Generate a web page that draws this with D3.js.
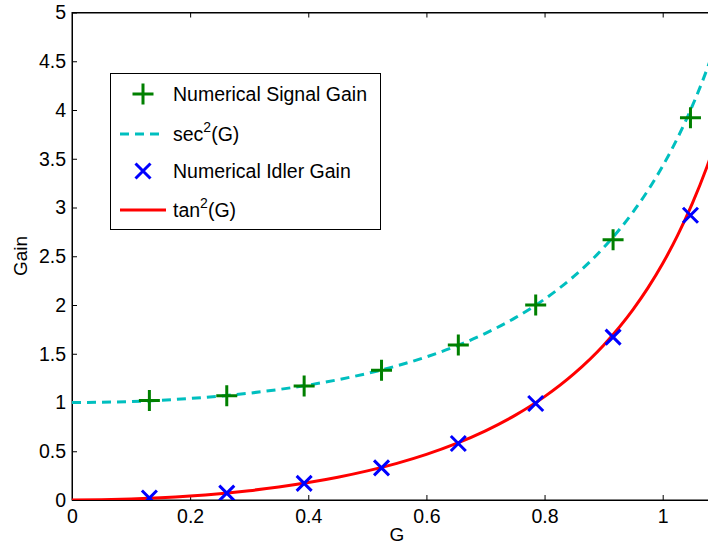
<!DOCTYPE html>
<html>
<head>
<meta charset="utf-8">
<script src="https://cdn.jsdelivr.net/npm/d3@7"></script>
<style>
  body { margin: 0; background: #fff; }
  text { font-family: "Liberation Sans", Arial, sans-serif; }
</style>
</head>
<body>
<div id="graph"></div>
<script>
// numerical points
const gPoints = [0.131, 0.262, 0.393, 0.524, 0.654, 0.785, 0.916, 1.047];
const signalGain = [1.02, 1.07, 1.17, 1.33, 1.59, 2.00, 2.67, 3.92];
const idlerGain = [0.02, 0.07, 0.17, 0.33, 0.58, 0.99, 1.67, 2.92];

// analytic curves, sampled
const gCurve = [0, 0.05, 0.1, 0.15, 0.2, 0.25, 0.3, 0.35, 0.4, 0.45, 0.5, 0.55, 0.6, 0.65, 0.7, 0.75, 0.8, 0.85, 0.9, 0.95, 0.975, 1.0, 1.025, 1.05, 1.075, 1.1];
const sec2Curve = [1, 1.0025, 1.0101, 1.0228, 1.0411, 1.0652, 1.0957, 1.1333, 1.1788, 1.2334, 1.2985, 1.3759, 1.4680, 1.5779, 1.7095, 1.8679, 2.0602, 2.2958, 2.5880, 2.9555, 3.1755, 3.4255, 3.7111, 4.0391, 4.4185, 4.8603];
const tan2Curve = [0, 0.0025, 0.0101, 0.0228, 0.0411, 0.0652, 0.0957, 0.1333, 0.1788, 0.2334, 0.2985, 0.3759, 0.4680, 0.5779, 0.7095, 0.8679, 1.0602, 1.2958, 1.5880, 1.9555, 2.1755, 2.4255, 2.7111, 3.0391, 3.4185, 3.8603];

const xTicks = [0, 0.2, 0.4, 0.6, 0.8, 1];
const yTicks = [0, 0.5, 1, 1.5, 2, 2.5, 3, 3.5, 4, 4.5, 5];

const width = 708;
const height = 546;
const plotLeft = 72, plotTop = 12.5, plotBottom = 500;

const xScale = d3.scaleLinear().domain([0, 1.1]).range([plotLeft, plotLeft + 590.7 * 1.1]);
const yScale = d3.scaleLinear().domain([0, 5]).range([plotBottom, plotTop]);

const svg = d3.select("#graph")
    .append("svg")
    .attr("width", width)
    .attr("height", height);

svg.append("defs").append("clipPath")
    .attr("id", "plotClip")
    .append("rect")
    .attr("x", plotLeft).attr("y", plotTop)
    .attr("width", xScale(1.1) - plotLeft)
    .attr("height", plotBottom - plotTop);

// frame
svg.append("rect")
    .attr("x", plotLeft).attr("y", plotTop)
    .attr("width", xScale(1.1) - plotLeft)
    .attr("height", plotBottom - plotTop)
    .attr("fill", "none")
    .attr("stroke", "#000")
    .attr("stroke-width", 1);

const tickFmt = d3.format("");

const xAxis = d3.axisBottom(xScale).tickValues(xTicks).tickFormat(tickFmt)
    .tickSizeInner(-5).tickSizeOuter(0).tickPadding(9);
const yAxis = d3.axisLeft(yScale).tickValues(yTicks).tickFormat(tickFmt)
    .tickSizeInner(-5).tickSizeOuter(0).tickPadding(6);

const gx = svg.append("g").attr("transform", "translate(0," + plotBottom + ")").call(xAxis);
const gy = svg.append("g").attr("transform", "translate(" + plotLeft + ",0)").call(yAxis);
// mirrored ticks on top
svg.append("g").attr("transform", "translate(0," + plotTop + ")")
    .call(d3.axisTop(xScale).tickValues(xTicks).tickFormat("").tickSizeInner(-5).tickSizeOuter(0));

[gx, gy].forEach(g => {
    g.selectAll("text").attr("font-size", "19.5px").attr("fill", "#000")
        .attr("font-family", "Liberation Sans, Arial, sans-serif");
});
svg.selectAll(".domain").attr("stroke", "#000");
svg.selectAll(".tick line").attr("stroke", "#000");

// axis titles
svg.append("text")
    .attr("x", 397).attr("y", 541)
    .attr("text-anchor", "middle")
    .attr("font-size", "19px")
    .text("G");

svg.append("text")
    .attr("transform", "translate(27,256) rotate(-90)")
    .attr("text-anchor", "middle")
    .attr("font-size", "19px")
    .text("Gain");

const plot = svg.append("g").attr("clip-path", "url(#plotClip)");

const line = d3.line()
    .x((d, i) => xScale(gCurve[i]))
    .y(d => yScale(d))
    .curve(d3.curveMonotoneX);

plot.append("path")
    .datum(sec2Curve)
    .attr("d", line)
    .attr("fill", "none")
    .attr("stroke", "#00bfbf")
    .attr("stroke-width", 3)
    .attr("stroke-dasharray", "9,6");

plot.append("path")
    .datum(tan2Curve)
    .attr("d", line)
    .attr("fill", "none")
    .attr("stroke", "#ff0000")
    .attr("stroke-width", 3);

const plusPath = (cx, cy, r) => "M" + (cx - r) + "," + cy + "H" + (cx + r) + "M" + cx + "," + (cy - r) + "V" + (cy + r);
const crossPath = (cx, cy, r) => "M" + (cx - r) + "," + (cy - r) + "L" + (cx + r) + "," + (cy + r) +
    "M" + (cx - r) + "," + (cy + r) + "L" + (cx + r) + "," + (cy - r);

plot.selectAll(".sig")
    .data(signalGain)
    .enter()
    .append("path")
    .attr("class", "sig")
    .attr("d", (d, i) => plusPath(xScale(gPoints[i]), yScale(d), 10.5))
    .attr("stroke", "#008000")
    .attr("stroke-width", 3)
    .attr("fill", "none");

plot.selectAll(".idl")
    .data(idlerGain)
    .enter()
    .append("path")
    .attr("class", "idl")
    .attr("d", (d, i) => crossPath(xScale(gPoints[i]), yScale(d), 7.5))
    .attr("stroke", "#0000ff")
    .attr("stroke-width", 3)
    .attr("fill", "none");

// legend
const legend = svg.append("g");
legend.append("rect")
    .attr("x", 110.5).attr("y", 73.5)
    .attr("width", 270).attr("height", 156)
    .attr("fill", "#fff")
    .attr("stroke", "#000")
    .attr("stroke-width", 1);

const rows = [94, 134, 171, 210];
const symX = 143, textX = 173;

legend.append("path").attr("d", plusPath(symX, rows[0], 10.5))
    .attr("stroke", "#008000").attr("stroke-width", 3).attr("fill", "none");
legend.append("line").attr("x1", 120).attr("x2", 164).attr("y1", rows[1]).attr("y2", rows[1])
    .attr("stroke", "#00bfbf").attr("stroke-width", 3).attr("stroke-dasharray", "9,6");
legend.append("path").attr("d", crossPath(symX, rows[2], 7.5))
    .attr("stroke", "#0000ff").attr("stroke-width", 3).attr("fill", "none");
legend.append("line").attr("x1", 120).attr("x2", 166).attr("y1", rows[3]).attr("y2", rows[3])
    .attr("stroke", "#ff0000").attr("stroke-width", 3);

const addLabel = (y, base, sup, rest) => {
    const t = legend.append("text").attr("x", textX).attr("y", y + 7).attr("font-size", "19.5px");
    t.append("tspan").text(base);
    if (sup) {
        t.append("tspan").attr("dy", -9).attr("font-size", "14px").text(sup);
        t.append("tspan").attr("dy", 9).text(rest);
    }
};
addLabel(rows[0], "Numerical Signal Gain");
addLabel(rows[1], "sec", "2", "(G)");
addLabel(rows[2], "Numerical Idler Gain");
addLabel(rows[3], "tan", "2", "(G)");
</script>
</body>
</html>
